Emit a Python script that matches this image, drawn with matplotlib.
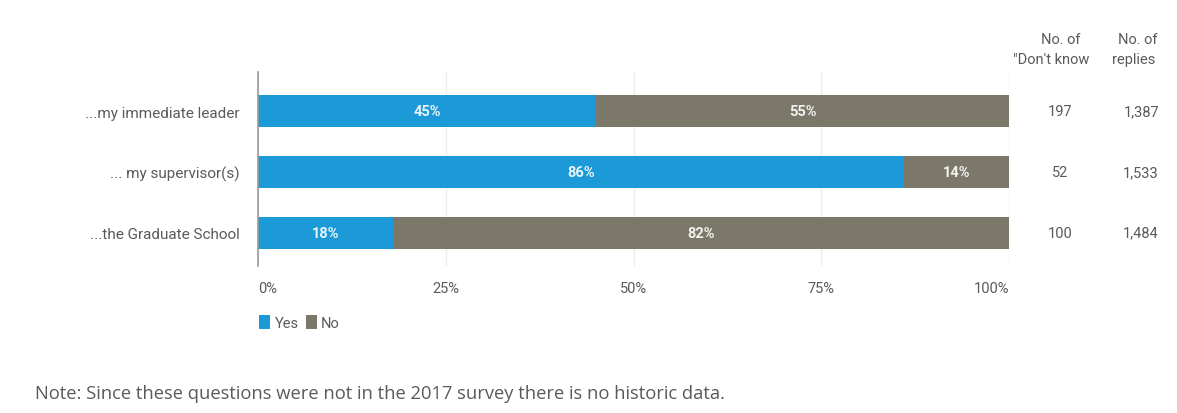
import matplotlib.pyplot as plt
import numpy as np

plt.rcParams['font.family'] = ['Roboto', 'DejaVu Sans']

categories = ['...my immediate leader', '... my supervisor(s)', '...the Graduate School']
yes_pct = [45, 86, 18]
no_pct = [55, 14, 82]
dont_know = ['197', '52', '100']
replies = ['1,387', '1,533', '1,484']
x_ticks = [0, 25, 50, 75, 100]

blue = '#1b9ad7'
olive = '#7b7869'
text_grey = '#5a5a5a'

fig = plt.figure(figsize=(11.77, 4.14), dpi=100)
ax = fig.add_axes([258 / 1177, 1 - 267 / 414, 751 / 1177, 194 / 414])

y = np.arange(len(categories))
h = 0.53
ax.barh(y, yes_pct, height=h, color=blue, label='Yes', zorder=2)
ax.barh(y, no_pct, left=yes_pct, height=h, color=olive, label='No', zorder=2)

for i in range(len(categories)):
    ax.text(yes_pct[i] / 2, y[i], f'{yes_pct[i]}%', ha='center', va='center',
            color='white', fontsize=10.5, fontweight='bold', alpha=0.9, zorder=3)
    ax.text(yes_pct[i] + no_pct[i] / 2, y[i], f'{no_pct[i]}%', ha='center', va='center',
            color='white', fontsize=10.5, fontweight='bold', alpha=0.9, zorder=3)
    ax.text(106.8, y[i], dont_know[i], ha='center', va='center', color=text_grey, fontsize=10.5,
            clip_on=False)
    ax.text(117.6, y[i], replies[i], ha='center', va='center', color=text_grey, fontsize=10.5,
            clip_on=False)

ax.set_xlim(0, 100)
ax.set_ylim(2.55, -0.65)
ax.set_yticks(y)
ax.set_yticklabels(categories, color=text_grey, fontsize=11)
ax.tick_params(axis='y', length=0, pad=13)
ax.set_xticks(x_ticks)
ax.set_xticklabels([f'{t}%' for t in x_ticks], color=text_grey, fontsize=10.5)
ax.tick_params(axis='x', length=0, pad=11)
xl = ax.get_xticklabels()
xl[0].set_ha('left')
xl[-1].set_ha('right')

ax.grid(axis='x', color='#eeeeee', linewidth=1, zorder=0)
for s in ['top', 'right', 'bottom']:
    ax.spines[s].set_visible(False)
ax.spines['left'].set_color('#999999')
ax.spines['left'].set_linewidth(1.2)

# column headers for the counts on the right
ax.text(106.9, -1.2, 'No. of', ha='center', va='center', color=text_grey,
        fontsize=10.5, clip_on=False)
ax.text(105.6, -0.87, '"Don\'t know', ha='center', va='center', color=text_grey,
        fontsize=10.5, clip_on=False)
ax.text(117.2, -1.2, 'No. of', ha='center', va='center', color=text_grey,
        fontsize=10.5, clip_on=False)
ax.text(116.6, -0.87, 'replies', ha='center', va='center', color=text_grey,
        fontsize=10.5, clip_on=False)

ax.legend(loc='upper left', bbox_to_anchor=(-0.006, -0.225), ncol=2, frameon=False,
          handlelength=0.75, handleheight=1.1, handletextpad=0.3, columnspacing=0.5,
          fontsize=10.5, labelcolor=text_grey, borderaxespad=0)

fig.text(35 / 1177, 1 - 394 / 414, 'Note: Since these questions were not in the 2017 survey there is no historic data.',
         ha='left', va='center', color=text_grey, fontsize=13.2,
         family=['Open Sans', 'DejaVu Sans'])

fig.savefig('out.png', dpi=100)
